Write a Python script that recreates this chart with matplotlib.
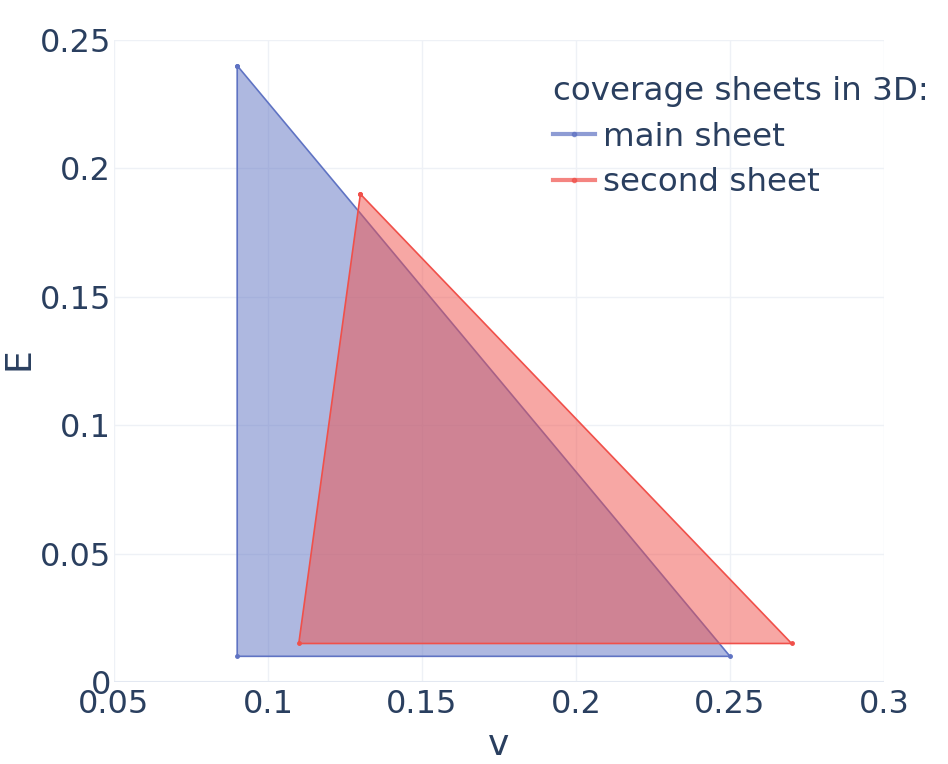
import matplotlib
matplotlib.use("Agg")
import matplotlib.pyplot as plt
from matplotlib.lines import Line2D

# corner points of the two coverage sheets (v, E), closed polygons
main_v = [0.09, 0.09, 0.25, 0.09]
main_e = [0.24, 0.01, 0.01, 0.24]
second_v = [0.13, 0.11, 0.27, 0.13]
second_e = [0.19, 0.015, 0.015, 0.19]

x_ticks = [0.05, 0.1, 0.15, 0.2, 0.25, 0.3]
x_labels = ["0.05", "0.1", "0.15", "0.2", "0.25", "0.3"]
y_ticks = [0, 0.05, 0.1, 0.15, 0.2, 0.25]
y_labels = ["0", "0.05", "0.1", "0.15", "0.2", "0.25"]

BLUE = "#5f73c3"
RED = "#f0504a"
TEXT = "#2a3f5f"
GRID = "#eef1f6"

plt.rcParams["font.family"] = ["DejaVu Sans"]

fig = plt.figure(figsize=(9.48, 7.64), dpi=100)
W, H = 948, 764
ax = fig.add_axes([114 / W, 1 - 682 / H, (884 - 114) / W, (682 - 40) / H])

ax.fill(main_v, main_e, color=BLUE, alpha=0.5, lw=0, zorder=2)
ax.plot(main_v, main_e, color=BLUE, lw=1.2, marker="o", ms=2.5, zorder=3)
ax.fill(second_v, second_e, color=RED, alpha=0.5, lw=0, zorder=4)
ax.plot(second_v, second_e, color=RED, lw=1.2, marker="o", ms=2.5, zorder=5)

ax.set_xlim(0.05, 0.3)
ax.set_ylim(0, 0.25)
ax.set_xticks(x_ticks, x_labels)
ax.set_yticks(y_ticks, y_labels)
ax.grid(True, color=GRID, lw=1, zorder=0)
ax.set_axisbelow(True)
for s in ax.spines.values():
    s.set_visible(False)
ax.axhline(0, color="#e3e8f1", lw=1.5, zorder=1)
ax.tick_params(length=0, labelsize=23, labelcolor=TEXT)
ax.tick_params(axis="x", pad=5)
ax.tick_params(axis="y", pad=2)

# axis titles
fig.text(499 / W, 1 - 745 / H, "v", fontsize=26, color=TEXT,
         ha="center", va="center")
fig.text(18 / W, 1 - 359 / H, "E", fontsize=26, color=TEXT,
         ha="center", va="center", rotation=90)

handles = [
    Line2D([], [], color=BLUE, lw=3, alpha=0.7, marker="o", ms=3),
    Line2D([], [], color=RED, lw=3, alpha=0.7, marker="o", ms=3),
]
leg = fig.legend(handles, ["main sheet", "second sheet"],
                 title="coverage sheets in 3D:", loc="upper left",
                 bbox_to_anchor=(553 / W, 1 - 76 / H), frameon=False,
                 fontsize=23.4, title_fontsize=23.4, handlelength=1.3,
                 handletextpad=0.25, labelspacing=0.45, borderaxespad=0,
                 borderpad=0, alignment="left")
for t in leg.get_texts():
    t.set_color(TEXT)
leg.get_title().set_color(TEXT)

fig.savefig("out.png", dpi=100)
